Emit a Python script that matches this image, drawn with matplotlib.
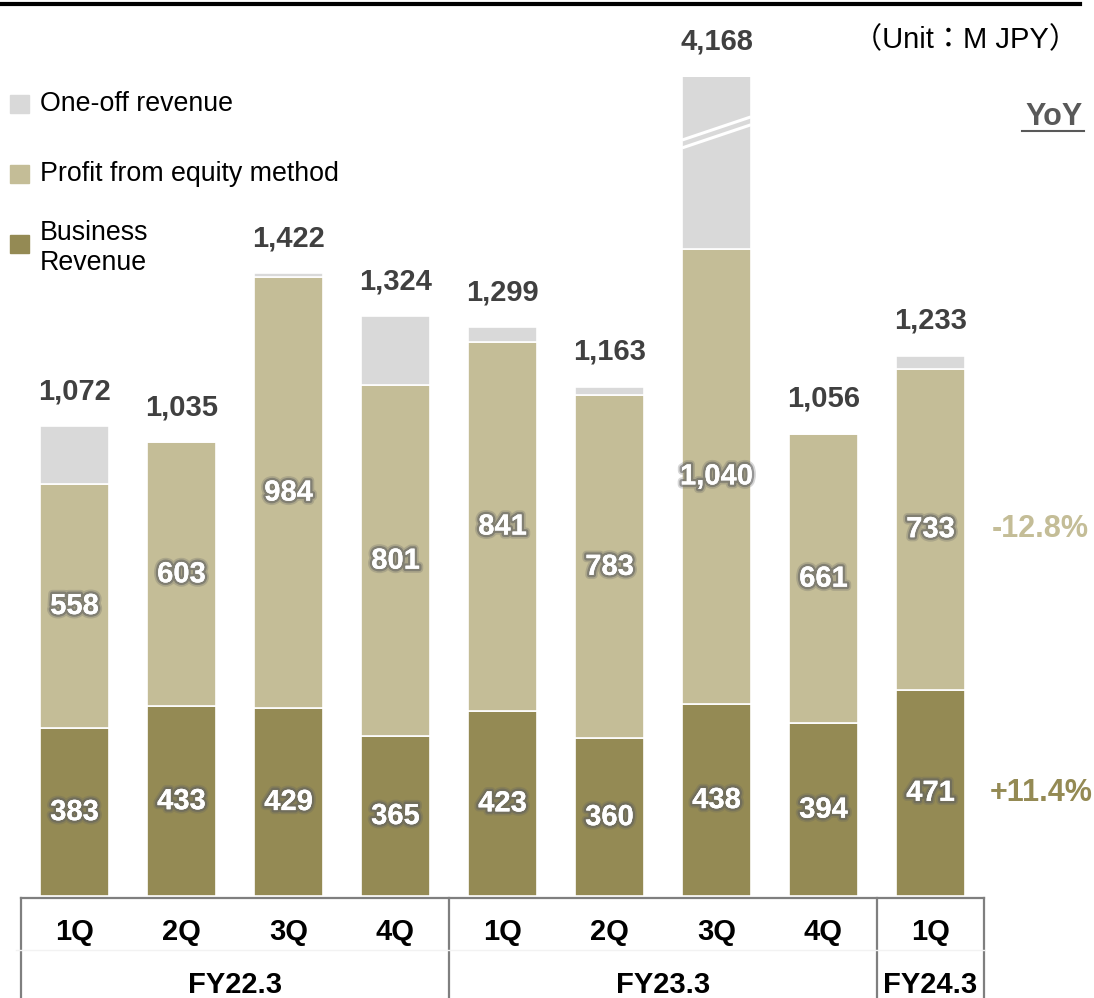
import matplotlib
matplotlib.use("Agg")
import matplotlib.pyplot as plt
import matplotlib.patheffects as pe
from matplotlib.patches import Rectangle
from matplotlib.lines import Line2D

plt.rcParams['font.family'] = ['Liberation Sans', 'Noto Sans CJK JP', 'DejaVu Sans']

# quarterly revenue, M JPY
quarters = ['1Q', '2Q', '3Q', '4Q', '1Q', '2Q', '3Q', '4Q', '1Q']
fiscal_years = ['FY22.3', 'FY23.3', 'FY24.3']
fy_span = [(0, 3), (4, 7), (8, 8)]
business = [383, 433, 429, 365, 423, 360, 438, 394, 471]
equity = [558, 603, 984, 801, 841, 783, 1040, 661, 733]
totals = [1072, 1035, 1422, 1324, 1299, 1163, 4168, 1056, 1233]
yoy_equity = '-12.8%'
yoy_business = '+11.4%'

one_off = [max(t - b - e, 0) for t, b, e in zip(totals, business, equity)]

C_BIZ = '#948A54'
C_EQ = '#C4BD97'
C_ONE = '#D9D9D9'
C_TOTAL = '#404040'

W, H = 1094, 998
fig = plt.figure(figsize=(W / 100, H / 100), dpi=100)


def fx(x):
    return x / W


def fy(y):
    return 1 - y / H


# bar area: baseline at y=896px, clipped at y=77px
ax = fig.add_axes([fx(21), fy(896), fx(984) - fx(21), fy(77) - fy(896)])
ymax = 1870
ax.set_xlim(-0.5, 8.5)
ax.set_ylim(0, ymax)
ax.axis('off')

x = list(range(len(quarters)))
bw = 0.645
base2 = [b + e for b, e in zip(business, equity)]
ax.bar(x, business, bw, color=C_BIZ, edgecolor='white', linewidth=1.2)
ax.bar(x, equity, bw, bottom=business, color=C_EQ, edgecolor='white', linewidth=1.2)
ax.bar(x, one_off, bw, bottom=base2, color=C_ONE, edgecolor='white', linewidth=1.2)

# break marks on the oversized bar
big = totals.index(max(totals))
for y0 in (1708, 1726):
    ax.plot([big - bw / 2, big + bw / 2], [y0, y0 + 53], color='white', lw=2.2,
            solid_capstyle='butt')

glow = [pe.withStroke(linewidth=6, foreground='#606060', alpha=0.25),
        pe.withStroke(linewidth=3.5, foreground='#606060', alpha=0.55),
        pe.Normal()]

for i in x:
    ax.text(i, business[i] / 2, f'{business[i]:,}', ha='center', va='center',
            color='white', fontsize=21, fontweight='bold', path_effects=glow)
    ax.text(i, business[i] + equity[i] / 2, f'{equity[i]:,}', ha='center',
            va='center', color='white', fontsize=21, fontweight='bold',
            path_effects=glow)
    top = min(totals[i], ymax)
    ax.text(i, top + 80, f'{totals[i]:,}', ha='center', va='center',
            color=C_TOTAL, fontsize=21, fontweight='bold', clip_on=False)

# YoY column
last = len(x) - 1
ax.text(9.03, business[last] + equity[last] / 2, yoy_equity, ha='center',
        va='center', color=C_EQ, fontsize=22, fontweight='bold', clip_on=False)
ax.text(9.03, business[last] / 2, yoy_business, ha='center', va='center',
        color=C_BIZ, fontsize=22, fontweight='bold', clip_on=False)
fig.text(fx(1083), fy(117), 'YoY', ha='right', va='center', color='#595959',
         fontsize=22, fontweight='bold')
fig.add_artist(Line2D([fx(1022), fx(1084)], [fy(131), fy(131)], color='#595959', lw=1.5))

fig.text(fx(1078), fy(40), '（Unit：M JPY）', ha='right', va='center',
         color='black', fontsize=21)

# heavy rule across the top
fig.add_artist(Line2D([0, fx(1080)], [fy(4), fy(4)], color='black', lw=3))

# legend
legend_items = [('One-off revenue', C_ONE, 104, 104),
                ('Profit from equity method', C_EQ, 174, 174),
                ('Business\nRevenue', C_BIZ, 244, 248)]
for label, col, sq_y, txt_y in legend_items:
    fig.add_artist(Rectangle((fx(10), fy(sq_y + 9)), fx(19), fy(0) - fy(18),
                             transform=fig.transFigure, color=col))
    fig.text(fx(40), fy(txt_y), label, ha='left', va='center', fontsize=19.3,
             color='black', linespacing=1.25)

# category table under the bars
tbl = '#7F7F7F'
ax.plot([-0.5, 8.5], [-5, -5], color=tbl, lw=1.6, clip_on=False)
for xv in (-0.5, 3.5, 7.5, 8.5):
    ax.plot([xv, xv], [-5, -240], color=tbl, lw=1.6, clip_on=False)
ax.plot([-0.55, 8.5], [-123, -123], color='#F2F2F2', lw=1, clip_on=False)
for i, q in enumerate(quarters):
    ax.text(i, -82, q, ha='center', va='center', fontsize=21,
            fontweight='bold', color='black', clip_on=False)
for name, (a, b) in zip(fiscal_years, fy_span):
    ax.text((a + b) / 2, -203, name, ha='center', va='center', fontsize=21,
            fontweight='bold', color='black', clip_on=False)

fig.savefig('out.png', dpi=100)
